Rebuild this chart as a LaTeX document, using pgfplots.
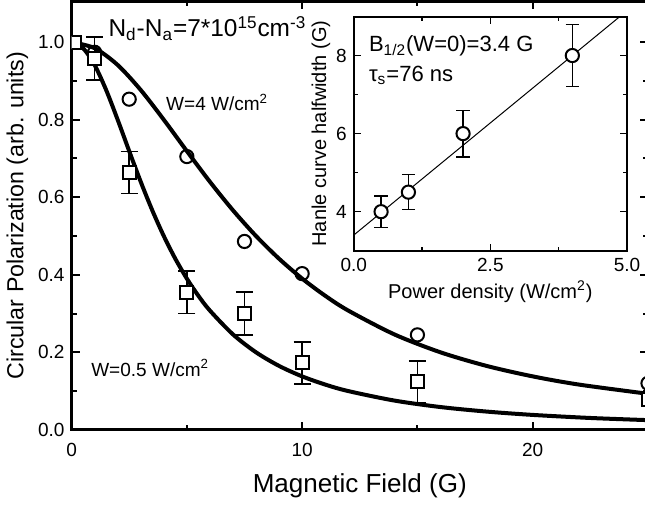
\documentclass[border=0pt]{standalone}
\usepackage{fontspec}
\setmainfont{Liberation Sans}
\usepackage{pgfplots}
\pgfplotsset{compat=1.18}

\begin{document}
\begin{tikzpicture}
\begin{axis}[
  name=main,
  scale only axis,
  width=288pt, height=214pt,
  xmin=0, xmax=25, ymin=0, ymax=1.105,
  xtick={0,10,20}, minor xtick={5,15,25},
  ytick={0,0.2,0.4,0.6,0.8,1.0}, minor ytick={0.1,0.3,0.5,0.7,0.9},
  yticklabel style={/pgf/number format/.cd, fixed, fixed zerofill, precision=1},
  xticklabel style={yshift=-3pt},
  /pgf/number format/assume math mode=true,
  tick align=inside,
  major tick length=4pt, minor tick length=2.5pt,
  every tick/.style={black, line width=1pt},
  axis line style={line width=1.5pt},
  ticklabel style={font=\fontsize{9.5}{10}\selectfont},
  xlabel={Magnetic Field (G)},
  ylabel={Circular Polarization (arb. units)},
  xlabel style={font=\fontsize{13}{14}\selectfont, yshift=-2pt},
  ylabel style={font=\fontsize{11.6}{14}\selectfont, yshift=-2pt},
  clip marker paths=true,
]
% fits, W=0.5 W/cm2
\addplot[black, line width=2pt, smooth] coordinates {
  (0,1) (0.5,0.9846) (1,0.9412) (1.5,0.8767) (2,0.8) (2.5,0.7191) (3,0.64)
  (3.5,0.5664) (4,0.5) (4.5,0.4414) (5,0.3902) (5.5,0.3459) (6,0.3077)
  (7,0.2462) (8,0.2) (9,0.1649) (10,0.1379) (11,0.1168) (12,0.1) (14,0.0755)
  (16,0.0588) (18,0.0471) (20,0.0385) (22.5,0.0306) (25,0.0250)
};
% fits, W=4 W/cm2
\addplot[black, line width=2pt, smooth] coordinates {
  (0,1) (1,0.9846) (2,0.9412) (3,0.8767) (4,0.8) (5,0.7191) (6,0.64)
  (7,0.5664) (8,0.5) (9,0.4414) (10,0.3902) (11,0.3459) (12,0.3077)
  (14,0.2462) (16,0.2) (18,0.1649) (20,0.1379) (22,0.1168) (25,0.0930)
};
% circles, W=4
\addplot[only marks, mark=o, mark size=3.3pt, mark options={line width=1pt, fill=white}] coordinates {
  (1,0.974) (2.5,0.853) (5,0.705) (7.5,0.486) (10,0.403) (15,0.245) (25,0.12)
};
% squares, W=0.5 with error bars
\addplot[only marks, mark=square*, mark size=3.2pt, mark options={line width=1pt, fill=white, draw=black},
  error bars/.cd, y dir=both, y explicit,
  error bar style={line width=0.8pt, black},
  error mark options={rotate=90, mark size=4.3pt, line width=0.8pt, black}]
  table[x=x, y=y, y error=e] {
x    y     e
1    0.958 0.055
2.5  0.664 0.054
5    0.355 0.055
7.5  0.300 0.055
10   0.173 0.054
15   0.124 0.054
};
\addplot[only marks, mark=square*, mark size=3.2pt, mark options={line width=1pt, fill=white, draw=black}] coordinates {
  (0.15,1.0) (25,0.078)
};
\node[anchor=west, font=\fontsize{12.2}{14}\selectfont] at (axis cs:1.3,1.035)
  {N\textsubscript{d}-N\textsubscript{a}=7*10\textsuperscript{15}cm\textsuperscript{-3}};
\node[anchor=west, font=\fontsize{9.5}{11}\selectfont] at (axis cs:3.8,0.845) {W=4 W/cm\textsuperscript{2}};
\node[anchor=west, font=\fontsize{9.5}{11}\selectfont] at (axis cs:0.55,0.16) {W=0.5 W/cm\textsuperscript{2}};
\end{axis}

\begin{axis}[
  at={(141pt,89.5pt)}, anchor=south west,
  scale only axis, width=136.5pt, height=117pt,
  xmin=0, xmax=5, ymin=3, ymax=9,
  xtick={0,2.5,5}, minor xtick={1.25,3.75},
  xticklabel style={/pgf/number format/.cd, fixed, fixed zerofill, precision=1},
  ytick={4,6,8}, minor ytick={3,5,7,9},
  /pgf/number format/assume math mode=true,
  tick align=inside,
  major tick length=3.5pt, minor tick length=2pt,
  every tick/.style={black, line width=0.8pt},
  axis line style={line width=1pt},
  ticklabel style={font=\fontsize{9.5}{10}\selectfont},
  xlabel={Power density (W/cm\textsuperscript{2})},
  ylabel={Hanle curve halfwidth (G)},
  label style={font=\fontsize{10}{12}\selectfont},
  xlabel style={yshift=2pt}, ylabel style={yshift=-4pt},
  axis background/.style={fill=white},
]
\addplot[black, line width=0.5pt] coordinates {(0,3.4) (4.87,9.0)};
\addplot[only marks, mark=*, mark size=3.3pt, mark options={line width=1pt, fill=white, draw=black},
  error bars/.cd, y dir=both, y explicit,
  error bar style={line width=0.6pt, black},
  error mark options={rotate=90, mark size=3.3pt, line width=0.6pt, black}]
  table[x=x, y=y, y error=e] {
x   y    e
0.5 4.0  0.4
1   4.5  0.45
2   6.0  0.6
4   8.0  0.8
};
\node[anchor=west, font=\fontsize{11}{12}\selectfont] at (axis cs:0.15,8.25) {B\textsubscript{1/2}(W=0)=3.4 G};
\node[anchor=west, font=\fontsize{11}{12}\selectfont] at (axis cs:0.15,7.5) {τ\textsubscript{s}=76 ns};
\end{axis}
\coordinate (tr) at (main.north east |- main.outer north east);
\coordinate (bl) at (main.outer south west);
\pgfresetboundingbox
\path[use as bounding box] (bl) rectangle ([xshift=-1.5pt]tr);
\end{tikzpicture}
\end{document}
